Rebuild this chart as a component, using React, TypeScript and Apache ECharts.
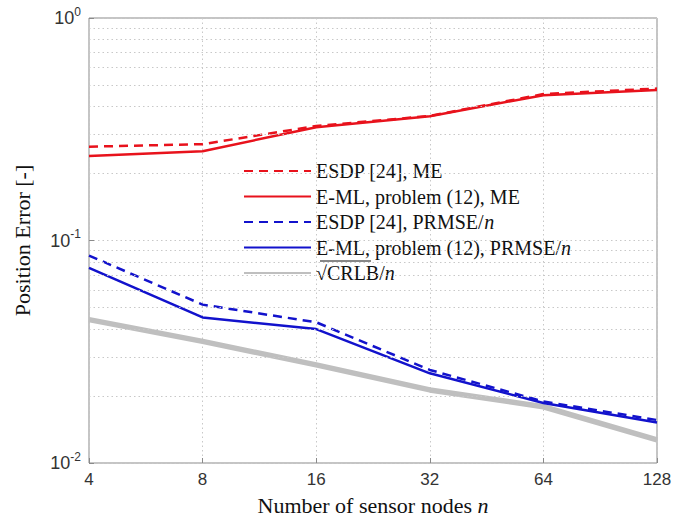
import React, { useEffect, useRef } from "react";
import * as echarts from "echarts";

const nodes = [4, 8, 16, 32, 64, 128];
const esdpME = [0.264, 0.271, 0.327, 0.363, 0.455, 0.482];
const emlME = [0.24, 0.252, 0.323, 0.362, 0.45, 0.475];
const esdpPRMSE = [0.0856, 0.0515, 0.0429, 0.0262, 0.0189, 0.0156];
const emlPRMSE = [0.0754, 0.0451, 0.04, 0.0253, 0.0186, 0.0152];
const crlb = [0.0441, 0.0352, 0.0276, 0.0213, 0.0179, 0.0127];
const minorGrid = [0.02, 0.03, 0.04, 0.05, 0.06, 0.07, 0.08, 0.09, 0.2, 0.3, 0.4, 0.5, 0.6, 0.7, 0.8, 0.9];

const names = [
  "ESDP [24], ME",
  "E-ML, problem (12), ME",
  "ESDP [24], PRMSE/n",
  "E-ML, problem (12), PRMSE/n",
  "√CRLB/n",
];

const RED = "#e8121c";
const BLUE = "#1212cc";
const GRAY = "#bfbfbf";

function pairs(ys: number[]) {
  return nodes.map((x, i) => [x, ys[i]]);
}

export default function App() {
  const ref = useRef<HTMLDivElement>(null);
  useEffect(() => {
    if (!ref.current) return;
    const chart = echarts.init(ref.current, null, { renderer: "svg" });
    const dotted = { color: "#c8c8c8", type: [1.5, 3] as any, width: 1 };
    const mk = (name: string, ys: number[], color: string, dashed: boolean, width: number, z: number) => ({
      name,
      type: "line",
      data: pairs(ys),
      symbol: "none",
      showSymbol: false,
      z,
      lineStyle: { color, width, type: dashed ? [9, 6] : "solid" },
      itemStyle: { color },
    });
    chart.setOption({
      animation: false,
      backgroundColor: "#ffffff",
      grid: {
        left: 89,
        right: 38,
        top: 18,
        bottom: 56,
        show: true,
        borderColor: "#8a8a8a",
        borderWidth: 1,
        backgroundColor: "transparent",
      },
      legend: {
        orient: "vertical",
        left: 238,
        top: 156,
        itemWidth: 67,
        itemHeight: 14,
        itemGap: 5.5,
        data: names,
        itemStyle: { opacity: 0 },
        textStyle: {
          fontFamily: "Liberation Serif",
          fontSize: 20,
          color: "#111",
          rich: {
            i: { fontFamily: "Liberation Serif", fontSize: 20, fontStyle: "italic", color: "#111" },
          },
        },
        formatter: (n: string) => n.replace(/\/n$/, "/{i|n}"),
      },
      xAxis: {
        type: "log",
        logBase: 2,
        min: 4,
        max: 128,
        name: "Number of sensor nodes {i|n}",
        nameLocation: "middle",
        nameGap: 31,
        nameTextStyle: {
          fontFamily: "Liberation Serif",
          fontSize: 22,
          color: "#111",
          rich: { i: { fontFamily: "Liberation Serif", fontSize: 22, fontStyle: "italic", color: "#111" } },
        },
        axisLine: { show: false },
        axisTick: { show: true, inside: true, length: 5, lineStyle: { color: "#8a8a8a" } },
        axisLabel: { fontFamily: "Liberation Sans", fontSize: 17, color: "#333", margin: 8 },
        splitLine: { show: true, lineStyle: dotted },
      },
      yAxis: {
        type: "log",
        logBase: 10,
        min: 0.01,
        max: 1,
        name: "Position Error [-]",
        nameLocation: "middle",
        nameGap: 56,
        nameTextStyle: { fontFamily: "Liberation Serif", fontSize: 22, color: "#111" },
        axisLine: { show: false },
        axisTick: { show: true, inside: true, length: 5, lineStyle: { color: "#8a8a8a" } },
        axisLabel: {
          color: "#333",
          margin: 8,
          formatter: (v: number) => {
            const e = Math.round(Math.log10(v));
            return `{b|10}{s|${e}}`;
          },
          rich: {
            b: { fontFamily: "Liberation Sans", fontSize: 18, color: "#333" },
            s: { fontFamily: "Liberation Sans", fontSize: 12, color: "#333", verticalAlign: "bottom", padding: [0, 0, 13, 0] },
          },
        },
        splitLine: { show: true, lineStyle: dotted },
      },
      graphic: [
        { type: "line", shape: { x1: 320, y1: 261, x2: 371, y2: 261 }, style: { stroke: "#111", lineWidth: 1 } },
      ],
      series: [
        {
          name: "grid-minor",
          type: "line",
          data: [],
          silent: true,
          z: 1,
          markLine: {
            silent: true,
            symbol: "none",
            label: { show: false },
            lineStyle: dotted,
            data: minorGrid.map((v) => ({ yAxis: v })),
          },
        },
        mk(names[4], crlb, GRAY, false, 5.5, 2),
        mk(names[0], esdpME, RED, true, 2.5, 3),
        mk(names[1], emlME, RED, false, 2.5, 3),
        mk(names[2], esdpPRMSE, BLUE, true, 2.5, 3),
        mk(names[3], emlPRMSE, BLUE, false, 2.5, 3),
      ],
    });
    return () => chart.dispose();
  }, []);
  return <div ref={ref} style={{ width: 695, height: 521, position: "absolute", left: 0, top: 0 }} />;
}
